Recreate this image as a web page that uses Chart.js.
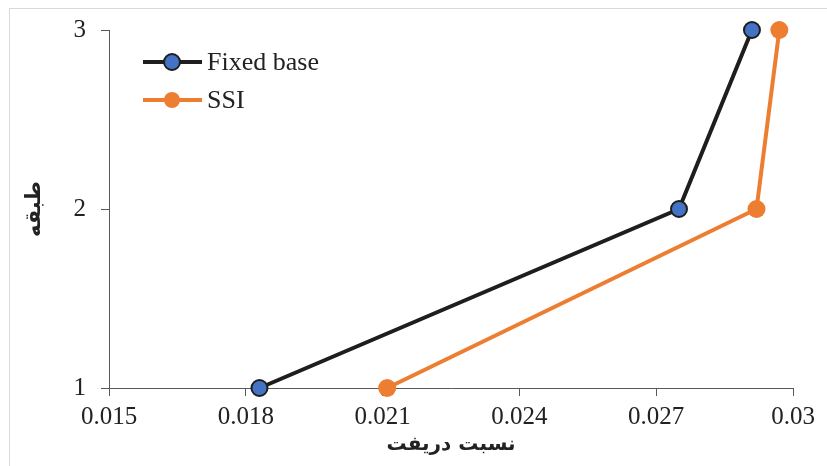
<!DOCTYPE html>
<html lang="fa">
<head>
<meta charset="UTF-8">
<title>Drift ratio</title>
<script src="https://cdn.jsdelivr.net/npm/chart.js"></script>
<style>
  html, body { margin: 0; padding: 0; background: #fff; }
  #wrap { width: 827px; height: 466px; }
</style>
</head>
<body>
<div id="wrap"><canvas id="drift" width="827" height="466"></canvas></div>
<script>
// storey number and drift ratio per storey
var floors = [1, 2, 3];
var fixedBase = [0.0183, 0.0275, 0.0291];
var ssi = [0.0211, 0.0292, 0.0297];
var xTicks = [0.015, 0.018, 0.021, 0.024, 0.027, 0.03];

function toPoints(vals) {
  return vals.map(function (v, i) { return { x: v, y: floors[i] }; });
}

// frame + legend drawn by hand (line with marker, like the original)
var extras = {
  id: 'extras',
  beforeDraw: function (chart) {
    var c = chart.ctx;
    c.save();
    c.strokeStyle = '#d9d9d9';
    c.lineWidth = 1;
    c.strokeRect(9.5, 8.5, 840, 480);
    c.restore();
  },
  afterDraw: function (chart) {
    var c = chart.ctx;
    var items = [
      { label: 'Fixed base', ds: chart.data.datasets[0], y: 62 },
      { label: 'SSI', ds: chart.data.datasets[1], y: 100 }
    ];
    c.save();
    items.forEach(function (it) {
      c.strokeStyle = it.ds.borderColor;
      c.lineWidth = 4;
      c.beginPath();
      c.moveTo(143, it.y);
      c.lineTo(202, it.y);
      c.stroke();
      c.beginPath();
      c.arc(172, it.y, 8, 0, Math.PI * 2);
      c.fillStyle = it.ds.pointBackgroundColor;
      c.fill();
      if (it.ds.pointBorderWidth > 0) {
        c.lineWidth = it.ds.pointBorderWidth;
        c.strokeStyle = it.ds.pointBorderColor;
        c.stroke();
      }
      c.fillStyle = '#222';
      c.font = '26px "Liberation Serif"';
      c.textBaseline = 'middle';
      c.fillText(it.label, 207, it.y + 1);
    });
    c.restore();
  }
};

var ctx = document.getElementById('drift');
var chart = new Chart(ctx, {
  type: 'scatter',
  data: {
    datasets: [
      {
        label: 'Fixed base',
        data: toPoints(fixedBase),
        showLine: true,
        borderColor: '#1e1e1e',
        borderWidth: 4,
        pointRadius: 8,
        pointBackgroundColor: '#4472c4',
        pointBorderColor: '#1e1e1e',
        pointBorderWidth: 2,
        clip: false
      },
      {
        label: 'SSI',
        data: toPoints(ssi),
        showLine: true,
        borderColor: '#ed7d31',
        borderWidth: 4,
        pointRadius: 9,
        pointBackgroundColor: '#ed7d31',
        pointBorderColor: '#ed7d31',
        pointBorderWidth: 0,
        clip: false
      }
    ]
  },
  options: {
    responsive: false,
    animation: false,
    layout: { padding: { top: 30, right: 34, left: 0, bottom: 0 } },
    plugins: {
      legend: { display: false },
      tooltip: { enabled: false }
    },
    scales: {
      x: {
        type: 'linear',
        min: 0.015,
        max: 0.03,
        afterBuildTicks: function (axis) {
          axis.ticks = xTicks.map(function (v) { return { value: v }; });
        },
        afterFit: function (axis) { axis.height = 78; },
        grid: { drawOnChartArea: false, drawTicks: true, tickLength: 8, color: '#595959' },
        border: { color: '#595959', width: 1 },
        ticks: {
          color: '#222',
          font: { family: 'Liberation Serif', size: 25 },
          padding: 6,
          maxRotation: 0,
          callback: function (v) { return parseFloat(v.toFixed(3)).toString(); }
        },
        title: {
          display: true,
          text: 'نسبت دریفت',
          color: '#222',
          font: { family: 'DejaVu Sans', size: 20, weight: 'bold' },
          padding: { top: 0, bottom: 9 }
        }
      },
      y: {
        type: 'linear',
        min: 1,
        max: 3,
        ticks: {
          stepSize: 1,
          color: '#222',
          font: { family: 'Liberation Serif', size: 25 },
          padding: 15
        },
        afterFit: function (axis) { axis.width = 109; },
        grid: { drawOnChartArea: false, drawTicks: true, tickLength: 8, color: '#595959' },
        border: { color: '#595959', width: 1 },
        title: {
          display: true,
          text: 'طبقه',
          color: '#222',
          font: { family: 'DejaVu Sans', size: 21, weight: 'bold' },
          padding: { top: 22, bottom: 0 }
        }
      }
    }
  },
  plugins: [extras]
});
</script>
</body>
</html>
